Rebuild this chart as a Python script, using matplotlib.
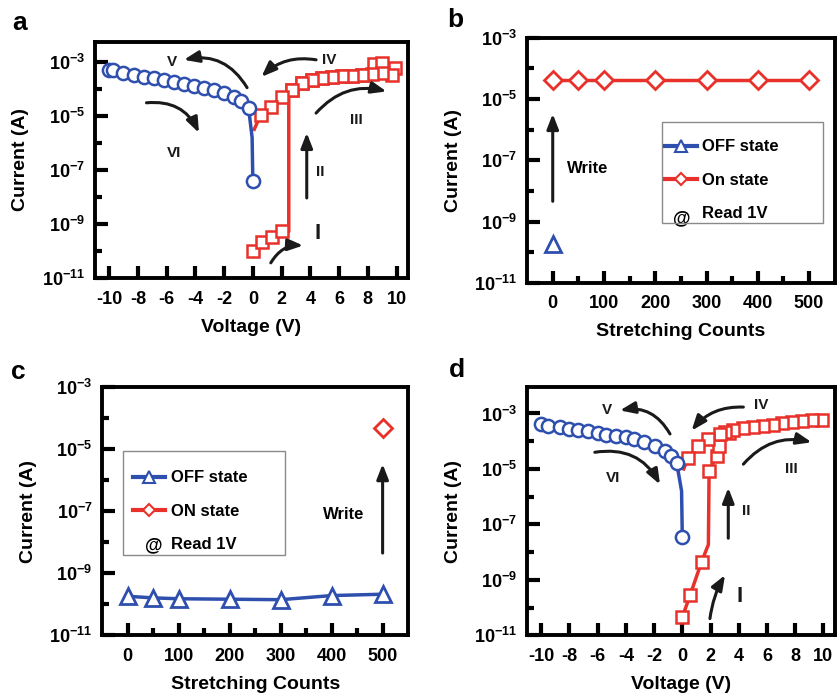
import numpy as np
import matplotlib
matplotlib.use("Agg")
import matplotlib.pyplot as plt
from matplotlib.lines import Line2D
from matplotlib.patches import Rectangle

plt.rcParams['font.family'] = ['Liberation Sans', 'DejaVu Sans']
plt.rcParams['font.weight'] = 'bold'
plt.rcParams['mathtext.fontset'] = 'custom'
plt.rcParams['mathtext.rm'] = 'Liberation Sans:bold'
plt.rcParams['mathtext.bf'] = 'Liberation Sans:bold'
plt.rcParams['mathtext.it'] = 'Liberation Sans:bold'

BLUE = '#2e4fae'
RED = '#e8312a'

# ---- panel a : I-V sweeps (log10 of current) ----
a_neg_v = [-10, -9.7, -9.0, -8.3, -7.6, -6.9, -6.2, -5.5, -4.8, -4.1, -3.4, -2.7, -2.0, -1.3, -0.8, -0.3]
a_neg_logi = [-3.30, -3.32, -3.40, -3.48, -3.55, -3.62, -3.68, -3.76, -3.83, -3.90, -3.98, -4.06, -4.16, -4.30, -4.45, -4.70]
a_zero_logi = -7.43
a_fwd_v = [0, 0.65, 1.35, 2.0, 2.7, 3.4, 4.1, 4.8, 5.5, 6.2, 6.9, 7.6, 8.4, 9.0, 9.9]
a_fwd_logi = [-10.0, -9.65, -9.47, -9.28, -4.04, -3.79, -3.67, -3.60, -3.57, -3.54, -3.52, -3.48, -3.10, -3.03, -3.22]
a_ret_v = [9.7, 9.0, 8.3, 7.6, 6.9, 6.2, 5.5, 4.8, 4.1, 3.4, 2.7, 2.0, 1.25, 0.55]
a_ret_logi = [-3.48, -3.42, -3.44, -3.48, -3.52, -3.54, -3.57, -3.60, -3.67, -3.79, -4.04, -4.30, -4.67, -4.96]
a_jump_v = 2.5

# ---- panel d : I-V after stretching ----
d_neg_v = [-10, -9.5, -8.7, -8.0, -7.4, -6.7, -6.0, -5.4, -4.7, -4.0, -3.4, -2.7, -1.9, -1.2, -0.8, -0.4]
d_neg_logi = [-3.37, -3.44, -3.50, -3.56, -3.60, -3.64, -3.72, -3.76, -3.80, -3.86, -3.92, -4.04, -4.16, -4.35, -4.53, -4.77]
d_zero_logi = -7.44
d_fwd_v = [0, 0.55, 1.37, 1.85, 1.9, 2.43, 2.62, 3.3]
d_fwd_logi = [-10.35, -9.56, -8.35, -7.73, -5.07, -4.53, -4.16, -3.70]
d_ret_v = [9.9, 9.2, 8.5, 7.8, 7.1, 6.4, 5.7, 5.0, 4.3, 3.6, 3.0, 2.67, 1.84, 1.13, 0.43]
d_ret_logi = [-3.22, -3.25, -3.28, -3.32, -3.36, -3.40, -3.44, -3.48, -3.53, -3.59, -3.66, -3.74, -3.92, -4.16, -4.59]

# ---- panels b, c : retention vs stretching counts ----
counts = [0, 50, 100, 200, 300, 400, 500]
b_on = [4e-5, 4e-5, 4e-5, 4e-5, 4e-5, 4e-5, 4e-5]
b_off_count = [0]
b_off = [1.9e-10]
c_off = [1.8e-10, 1.6e-10, 1.5e-10, 1.45e-10, 1.4e-10, 1.9e-10, 2.1e-10]
c_on_count = [500]
c_on = [4.8e-5]

volt_ticks = [-10, -8, -6, -4, -2, 0, 2, 4, 6, 8, 10]
count_ticks = [0, 100, 200, 300, 400, 500]
count_minor = [50, 150, 250, 350, 450]
dec_major = [-11, -9, -7, -5, -3]
dec_minor = [-10, -8, -6, -4]

fig = plt.figure(figsize=(8.38, 6.95), dpi=100)
ax_a = fig.add_axes([0.113, 0.600, 0.374, 0.340])
ax_b = fig.add_axes([0.629, 0.593, 0.367, 0.353])
ax_c = fig.add_axes([0.122, 0.086, 0.365, 0.357])
ax_d = fig.add_axes([0.629, 0.086, 0.367, 0.357])


def style(ax, ytop):
    ax.set_yscale('log')
    ax.set_ylim(1e-11, ytop)
    ax.set_yticks([10.0 ** e for e in dec_major])
    ax.set_yticklabels([r'$\mathbf{10^{%d}}$' % e for e in dec_major])
    ax.set_yticks([10.0 ** e for e in dec_minor], minor=True)
    ax.yaxis.set_minor_formatter(plt.NullFormatter())
    for s in ax.spines.values():
        s.set_linewidth(2.8)
    ax.tick_params(which='major', direction='in', length=9, width=3, labelsize=13)
    ax.tick_params(which='minor', direction='in', length=5, width=3)
    ax.tick_params(axis='x', which='major', pad=9)
    ax.tick_params(axis='y', which='major', pad=7)
    ax.set_ylabel('Current (A)', fontsize=14, fontweight='bold', labelpad=9)
    for t in ax.get_xticklabels() + ax.get_yticklabels():
        t.set_fontweight('bold')


def arrow(ax, x0, y0, x1, y1, rad=0.0):
    ax.annotate('', xy=(x1, 10 ** y1), xytext=(x0, 10 ** y0),
                arrowprops=dict(arrowstyle='-|>,head_length=0.9,head_width=0.35', color='#1a1a1a', lw=2.2,
                                connectionstyle='arc3,rad=%s' % rad, shrinkA=0, shrinkB=0))


def lab(ax, x, y, s, size=11):
    ax.text(x, 10 ** y, s, fontsize=size, fontweight='bold', ha='center', va='center', color='#1a1a1a')


def iv_panel(ax, neg_v, neg_logi, zero_logi, fwd_v, fwd_logi, ret_v, ret_logi, fwd_line, ret_tail):
    mk_s = dict(markersize=8.5, markeredgewidth=1.8, markerfacecolor='white')
    mk_o = dict(markersize=9.5, markeredgewidth=1.8, markerfacecolor='white')
    # red set/reset sweeps
    ax.plot(fwd_line[0], [10 ** v for v in fwd_line[1]], color=RED, lw=2.5)
    ax.plot(fwd_v, [10 ** v for v in fwd_logi], 's', color=RED, **mk_s)
    ax.plot(list(ret_v) + [ret_tail[0]], [10 ** v for v in list(ret_logi) + [ret_tail[1]]], '-', color=RED, lw=2.5)
    ax.plot(ret_v, [10 ** v for v in ret_logi], 's', color=RED, **mk_s)
    # blue negative sweep
    ax.plot(list(neg_v) + [-0.05, 0], [10 ** v for v in list(neg_logi) + [-5.8, zero_logi]], '-', color=BLUE, lw=2.5)
    ax.plot(list(neg_v) + [0], [10 ** v for v in list(neg_logi) + [zero_logi]], 'o', color=BLUE, **mk_o)
    ax.set_xlim(-11.0, 10.8)
    ax.set_xticks(volt_ticks)
    ax.set_xticklabels([str(t) for t in volt_ticks], fontweight='bold')
    ax.set_xlabel('Voltage (V)', fontsize=14, fontweight='bold', labelpad=8)


# panel a
style(ax_a, 10 ** -2.26)
a_line = (a_fwd_v[:4] + [a_jump_v, a_jump_v] + a_fwd_v[4:],
          a_fwd_logi[:4] + [a_fwd_logi[3], a_fwd_logi[4]] + a_fwd_logi[4:])
iv_panel(ax_a, a_neg_v, a_neg_logi, a_zero_logi, a_fwd_v, a_fwd_logi, a_ret_v, a_ret_logi, a_line, (0.1, -5.5))
arrow(ax_a, -0.4, -3.96, -4.8, -2.93, rad=0.35)
lab(ax_a, -5.6, -3.0, 'V')
arrow(ax_a, 4.4, -2.93, 0.6, -3.56, rad=0.25)
lab(ax_a, 5.3, -2.93, 'IV')
arrow(ax_a, -7.4, -4.52, -3.75, -5.63, rad=-0.35)
lab(ax_a, -5.5, -6.37, 'VI')
arrow(ax_a, 4.4, -4.9, 9.3, -4.1, rad=-0.3)
lab(ax_a, 7.2, -5.15, 'III')
arrow(ax_a, 3.75, -8.04, 3.75, -5.63)
lab(ax_a, 4.7, -7.07, 'II')
arrow(ax_a, 1.25, -10.44, 3.5, -9.8, rad=-0.3)
lab(ax_a, 4.5, -9.37, 'I', size=16)

# panel d
style(ax_d, 10 ** -2.05)
iv_panel(ax_d, d_neg_v, d_neg_logi, d_zero_logi, d_fwd_v[:3] + d_fwd_v[5:], d_fwd_logi[:3] + d_fwd_logi[5:],
         d_ret_v, d_ret_logi, (d_fwd_v, d_fwd_logi), (0.1, -5.0))
ax_d.plot([d_fwd_v[4]], [10 ** d_fwd_logi[4]], 's', color=RED, markersize=8.5, markeredgewidth=1.8,
          markerfacecolor='white')
arrow(ax_d, -0.87, -3.74, -4.42, -2.89, rad=0.35)
lab(ax_d, -5.37, -2.89, 'V')
arrow(ax_d, 4.33, -2.77, 0.66, -3.62, rad=0.25)
lab(ax_d, 5.6, -2.71, 'IV')
arrow(ax_d, -6.2, -4.4, -1.58, -5.56, rad=-0.35)
lab(ax_d, -4.9, -5.32, 'VI')
arrow(ax_d, 4.33, -4.83, 9.17, -4.04, rad=-0.3)
lab(ax_d, 7.75, -5.01, 'III')
arrow(ax_d, 3.26, -7.5, 3.26, -5.68)
lab(ax_d, 4.56, -6.53, 'II')
arrow(ax_d, 1.96, -10.4, 3.03, -8.83, rad=-0.1)
lab(ax_d, 4.09, -9.62, 'I', size=16)


def count_panel(ax):
    style(ax, 1e-3)
    ax.set_xlim(-50, 550)
    ax.set_xticks(count_ticks)
    ax.set_xticklabels([str(t) for t in count_ticks], fontweight='bold')
    ax.set_xticks(count_minor, minor=True)
    ax.set_xlabel('Stretching Counts', fontsize=14, fontweight='bold', labelpad=8)


def legend_box(ax, handles, labels, anchor, frame, at_pos):
    leg = ax.legend(handles, labels, loc='center left', bbox_to_anchor=anchor, frameon=False,
                    prop={'weight': 'bold', 'size': 12}, labelspacing=1.1, handlelength=1.9,
                    handletextpad=0.35, borderpad=0, borderaxespad=0)
    x0, y0, x1, y1 = frame
    ax.add_patch(Rectangle((x0, y0), x1 - x0, y1 - y0, transform=ax.transAxes, fill=False,
                           edgecolor='#8a8a8a', lw=1.0, zorder=4))
    ax.text(at_pos[0], at_pos[1], '@', transform=ax.transAxes, fontsize=13, fontweight='bold',
            ha='center', va='center')
    return leg


mk_d = dict(markersize=9, markeredgewidth=2, markerfacecolor='white')
mk_t = dict(markersize=12, markeredgewidth=2, markerfacecolor='white')
h_off = Line2D([], [], color=BLUE, lw=3, marker='^', markersize=8, markeredgewidth=1.5, markerfacecolor='white')
h_on = Line2D([], [], color=RED, lw=3, marker='D', markersize=6, markeredgewidth=1.5, markerfacecolor='white')
h_blank = Line2D([], [], color='none')

# panel b
count_panel(ax_b)
ax_b.plot(counts, b_on, '-D', color=RED, lw=2.5, **mk_d)
ax_b.plot(b_off_count, b_off, '^', color=BLUE, **mk_t)
arrow(ax_b, 0, -8.34, 0, -5.49)
ax_b.text(27, 10 ** -7.26, 'Write', fontsize=12, fontweight='bold', ha='left', va='center')
legend_box(ax_b, [h_off, h_on, h_blank], ['OFF state', 'On state', 'Read 1V'],
           (0.448, 0.418), (0.438, 0.245, 0.961, 0.657), (0.503, 0.262))

# panel c
count_panel(ax_c)
ax_c.plot(counts, c_off, '-^', color=BLUE, lw=2.5, **mk_t)
ax_c.plot(c_on_count, c_on, 'D', color=RED, **mk_d)
arrow(ax_c, 500, -8.35, 500, -5.48)
ax_c.text(424, 10 ** -7.1, 'Write', fontsize=12, fontweight='bold', ha='center', va='center')
legend_box(ax_c, [h_off, h_on, h_blank], ['OFF state', 'ON state', 'Read 1V'],
           (0.101, 0.5), (0.069, 0.323, 0.598, 0.742), (0.17, 0.359))

for (px, py), letter in [((20, 23), 'a'), ((455, 20), 'b'), ((18, 372), 'c'), ((457, 370), 'd')]:
    fig.text(px / 838, 1 - py / 695, letter, fontsize=19, fontweight='bold', ha='center', va='center')

fig.savefig('out.png', dpi=100)
